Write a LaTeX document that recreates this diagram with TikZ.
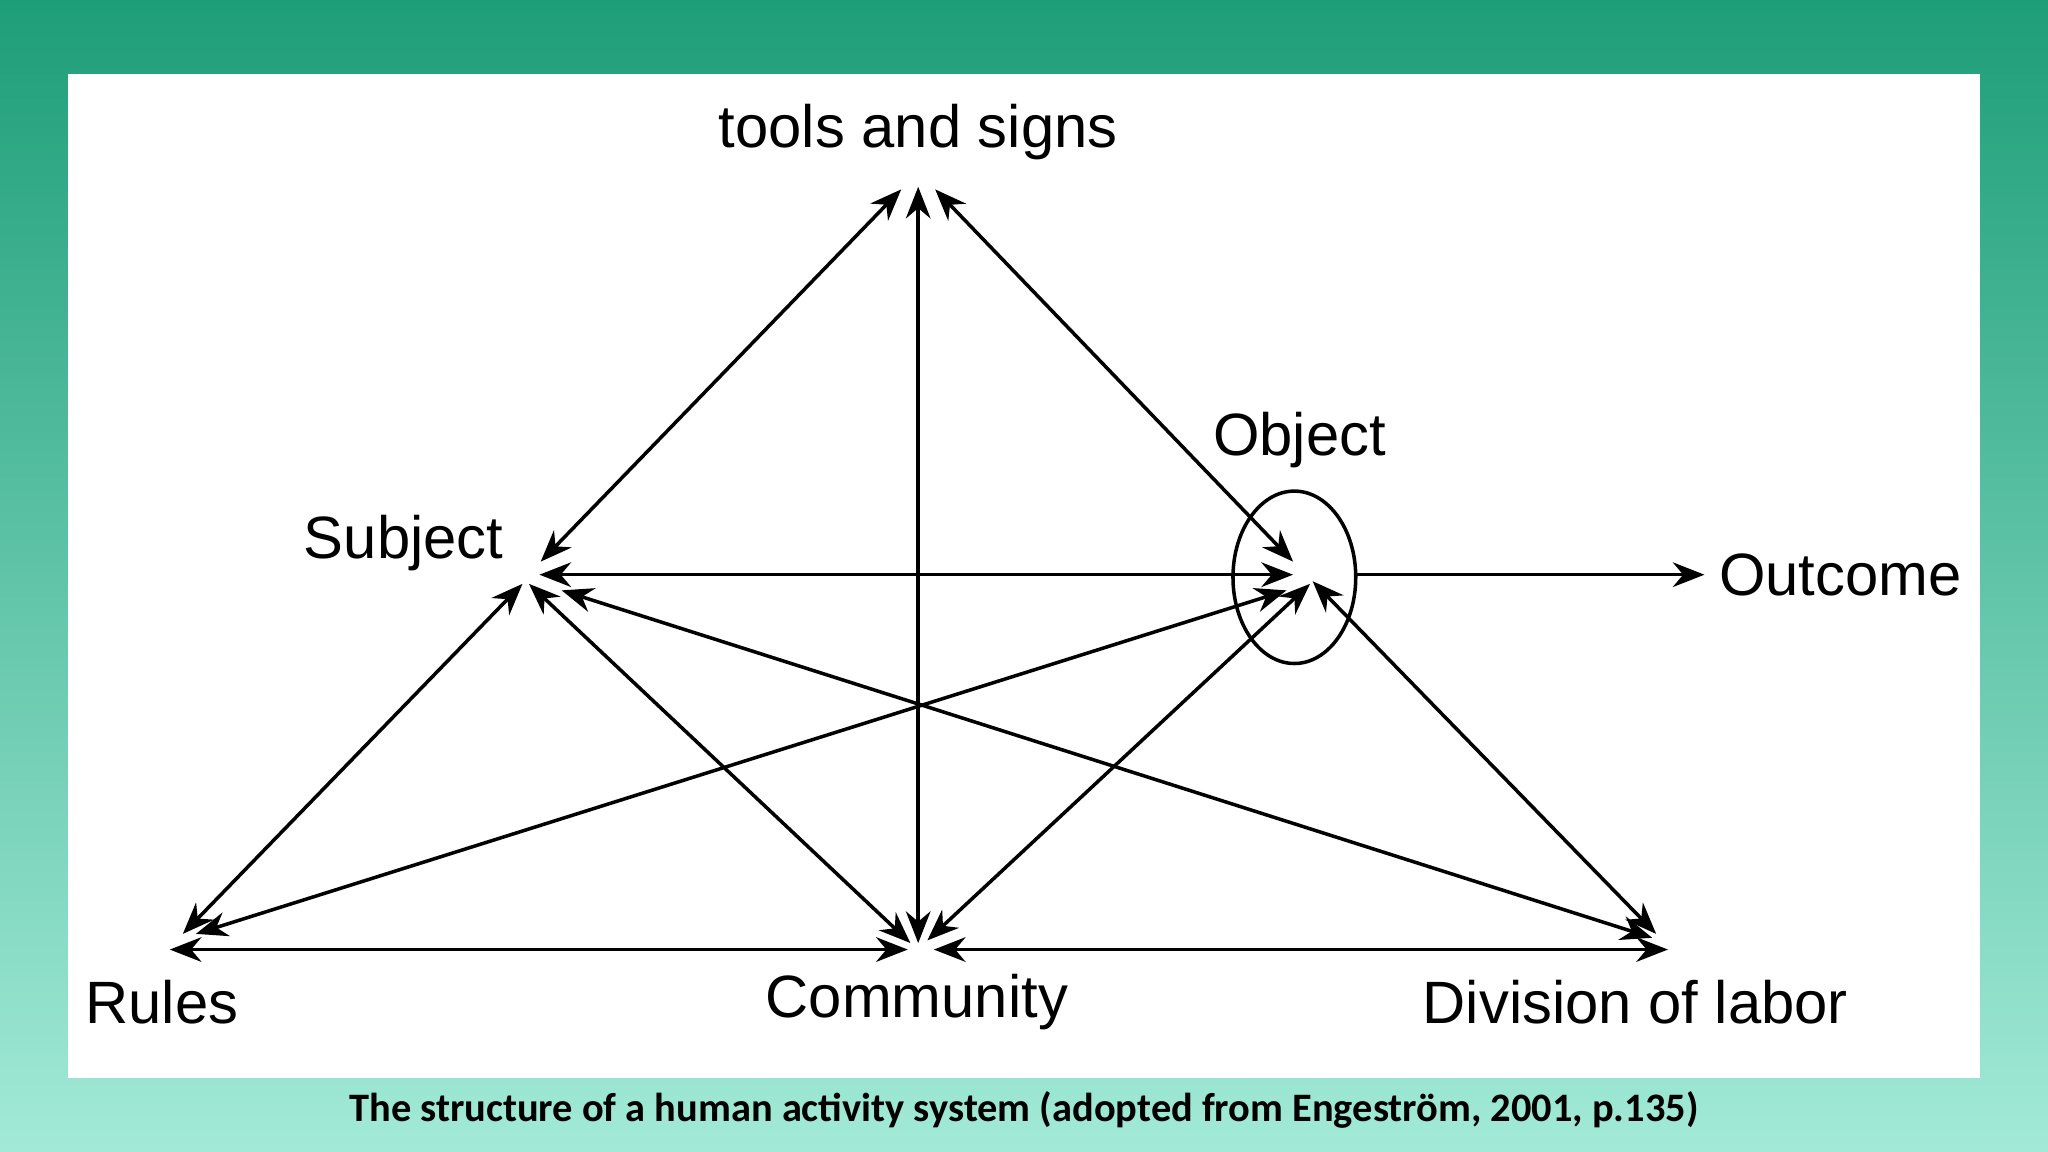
\documentclass[tikz,border=0pt]{standalone}
\usepackage{fontspec}
\setmainfont{Liberation Sans}
\newfontfamily\capfont{Carlito}
\usetikzlibrary{arrows.meta}
\definecolor{topc}{HTML}{1E9E78}
\definecolor{botc}{HTML}{A2EAD7}
\tikzset{
 conn/.style={line width=1pt,{Stealth[length=9pt,width=7pt]}-{Stealth[length=9pt,width=7pt]}},
 oneway/.style={line width=1pt,-{Stealth[length=9pt,width=7pt]}},
 lab/.style={font=\fontsize{17}{20}\selectfont,inner sep=0pt}
}
\begin{document}
\begin{tikzpicture}[x=0.01306cm,y=-0.01306cm]
\useasboundingbox (0,0) rectangle (1568,882);
\shade[top color=topc,bottom color=botc] (0,0) rectangle (1568,882);
\fill[white] (52,57) rectangle (1516,825);
% coordinates
\coordinate (t1) at (690,145); \coordinate (t2) at (703,143); \coordinate (t3) at (716,145);
\coordinate (s1) at (414,430); \coordinate (s2) at (413,440); \coordinate (s3) at (400,447);
\coordinate (s4) at (405,447); \coordinate (s5) at (430,452);
\coordinate (o1) at (990,430); \coordinate (o2) at (990,440); \coordinate (o3) at (985,452);
\coordinate (o4) at (1003,447); \coordinate (o5) at (1005,445); \coordinate (oe) at (1038,440);
\coordinate (out) at (1305,440);
\coordinate (r1) at (140,715); \coordinate (r2) at (150,715); \coordinate (r3) at (130,727);
\coordinate (c1) at (703,722); \coordinate (c2) at (697,722); \coordinate (c3) at (710,720);
\coordinate (c4) at (695,727); \coordinate (c5) at (715,727);
\coordinate (d1) at (1265,718); \coordinate (d2) at (1268,715); \coordinate (d3) at (1277,727);
\draw[line width=1pt] (991,442) ellipse [x radius=47,y radius=66];
\draw[conn] (t1) -- (s1);
\draw[conn] (t3) -- (o1);
\draw[conn] (t2) -- (c1);
\draw[conn] (s2) -- (o2);
\draw[oneway] (oe) -- (out);
\draw[conn] (s3) -- (r1);
\draw[conn] (s4) -- (c2);
\draw[conn] (s5) -- (d1);
\draw[conn] (o3) -- (r2);
\draw[conn] (o4) -- (c3);
\draw[conn] (o5) -- (d2);
\draw[conn] (r3) -- (c4);
\draw[conn] (c5) -- (d3);
\node[lab] (tl) at (703,101) {tools and signs};
\node[lab] (sl) at (309,416) {Subject};
\node[lab] (ol) at (995,337) {Object};
\node[lab] (outl) at (1409,440) {Outcome};
\node[lab] (rl) at (124,767) {Rules};
\node[lab] (cl) at (702,767) {Community};
\node[lab] (dl) at (1252,767) {Division of labor};
\node[font=\capfont\bfseries\fontsize{11.5}{14}\selectfont,inner sep=0pt] (cap) at (784,850) {The structure of a human activity system (adopted from Engeström, 2001, p.135)};
\end{tikzpicture}
\end{document}
